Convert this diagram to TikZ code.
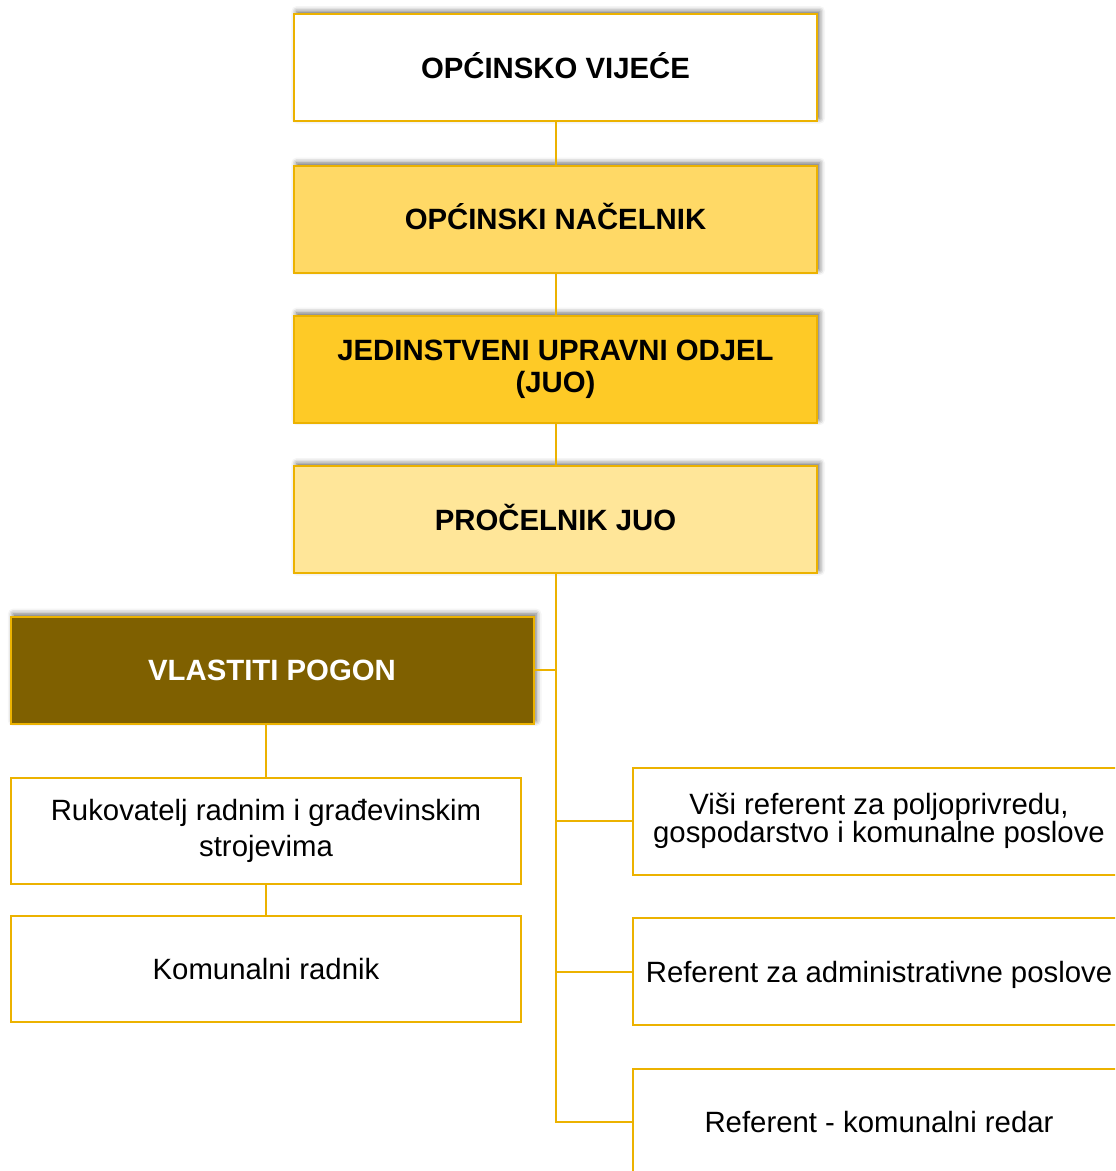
\documentclass[tikz,border=0pt]{standalone}
\usepackage{fontspec}
\setmainfont{Liberation Sans}
\usetikzlibrary{shadows.blur}
\definecolor{goldline}{RGB}{236,178,0}
\definecolor{nacfill}{RGB}{255,217,102}
\definecolor{juofill}{RGB}{254,202,38}
\definecolor{profill}{RGB}{255,230,153}
\definecolor{pogonfill}{RGB}{127,96,0}
\tikzset{unit/.style = {draw = goldline, line width = 1.5pt, align = center, inner sep = 0pt,
                        font = \fontsize{22}{24}\selectfont}}
\tikzset{oneline/.style = {text height = 15.75pt, text depth = 0pt}}
\tikzset{head/.style = {unit, minimum width = 392.25pt, minimum height = 80.25pt, font = \fontsize{22}{24}\selectfont\bfseries,
                        blur shadow = {shadow xshift = 2pt, shadow yshift = 2pt, shadow blur radius = 4pt, shadow opacity = 60}}}
\tikzset{staff/.style = {unit, minimum width = 382.5pt, minimum height = 79.5pt, fill = white}}
\tikzset{post/.style = {unit, minimum width = 369pt, minimum height = 80.25pt, fill = white}}
\tikzset{link/.style = {draw = goldline, line width = 1.5pt}}

\begin{document}
\begin{tikzpicture}[x = 0.75pt, y = -0.75pt]

  \clip (0 , 0) rectangle (1115 , 1171);
  \useasboundingbox (0 , 0) rectangle (1115 , 1171);

  % chain of command
  \node [head, oneline, fill = white] (vijece) at (555.5 , 67.5) {OPĆINSKO VIJEĆE};
  \node [head, oneline, fill = nacfill] (nacelnik) at (555.5 , 219) {OPĆINSKI NAČELNIK};
  \node [head, fill = juofill] (juo) at (555.5 , 369) {JEDINSTVENI UPRAVNI ODJEL\\(JUO)};
  \node [head, oneline, fill = profill] (procelnik) at (555.5 , 519.5) {PROČELNIK JUO};

  % left branch
  \node [head, oneline, fill = pogonfill, text = white] (pogon) at (272 , 670) {VLASTITI POGON};
  \node [staff, font = \fontsize{22}{27.5}\selectfont] (rukovatelj) at (266 , 831) {Rukovatelj radnim i građevinskim\\strojevima};
  \node [staff, oneline] (radnik) at (266 , 969) {Komunalni radnik};

  % right branch
  \node [post, font = \fontsize{22}{21.5}\selectfont] (visi) at (879 , 821) {Viši referent za poljoprivredu,\\gospodarstvo i komunalne poslove};
  \node [post, oneline] (admin) at (879 , 971.5) {Referent za administrativne poslove};
  \node [post, oneline] (redar) at (879 , 1122) {Referent - komunalni redar};

  \draw [link] (vijece) -- (nacelnik);
  \draw [link] (nacelnik) -- (juo);
  \draw [link] (juo) -- (procelnik);
  \draw [link] (procelnik.south) |- (redar.west);
  \draw [link] (procelnik.south |- pogon.east) -- (pogon.east);
  \draw [link] (procelnik.south |- visi.west) -- (visi.west);
  \draw [link] (procelnik.south |- admin.west) -- (admin.west);
  \draw [link] (rukovatelj.north |- pogon.south) -- (rukovatelj.north);
  \draw [link] (rukovatelj) -- (radnik);

\end{tikzpicture}
\end{document}
